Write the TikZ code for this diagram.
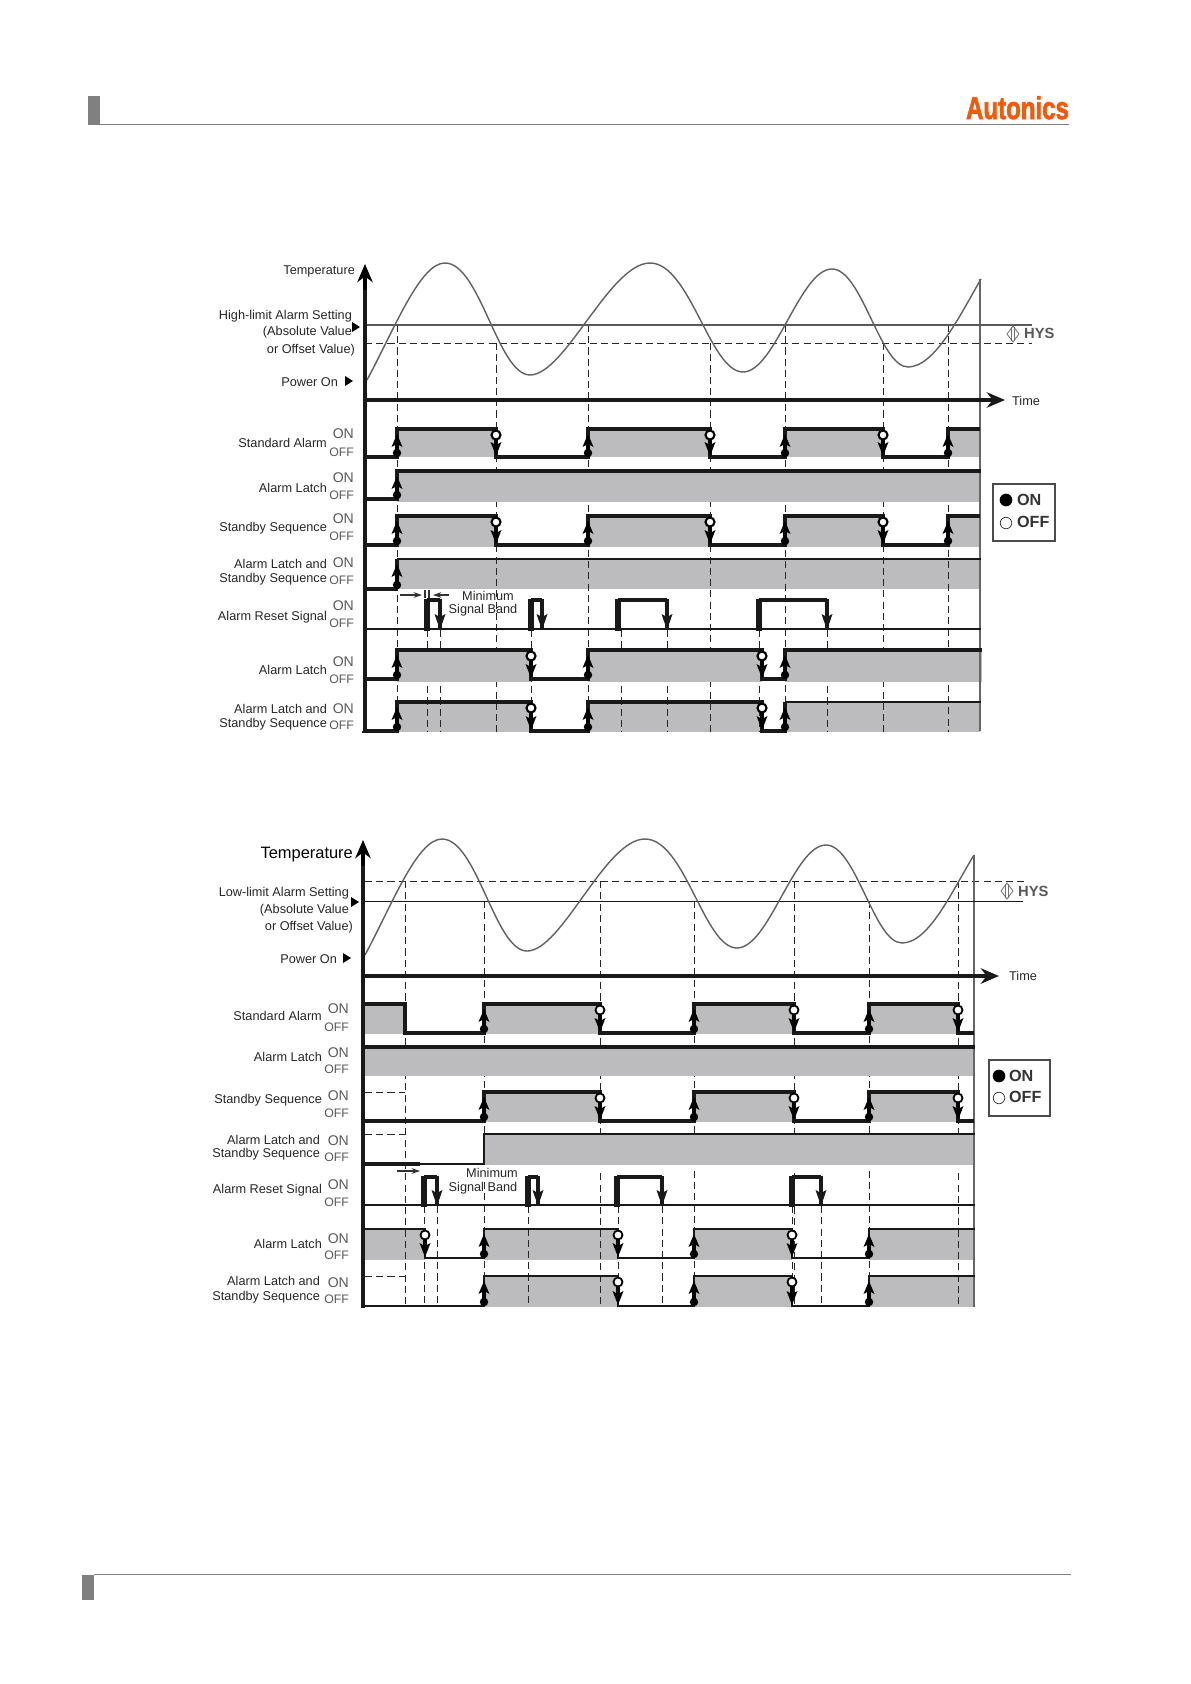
\documentclass[tikz,border=0pt]{standalone}
\usepackage{fontspec}
\setmainfont{Liberation Sans}
\newfontfamily\logofont[BoldFeatures={FakeBold=2.2}]{Liberation Sans}
\usetikzlibrary{arrows.meta}
\definecolor{bandgray}{RGB}{188,188,190}
\definecolor{logoorange}{RGB}{240,90,10}
\definecolor{rulegray}{RGB}{128,128,128}
\begin{document}
\begin{tikzpicture}[x=0.05cm,y=-0.05cm,>=latex,
  lbl/.style={anchor=east,inner sep=0pt,yshift=-1pt,text=black!85,font=\fontsize{18.1}{20}\selectfont},
  onlbl/.style={anchor=east,inner sep=0pt,yshift=-1pt,text=black!65,font=\fontsize{20}{22}\selectfont},
  offlbl/.style={anchor=east,inner sep=0pt,text=black!65,font=\fontsize{17.5}{20}\selectfont},
  hys/.style={anchor=west,inner sep=0pt,text=black!65,font=\bfseries\fontsize{21}{24}\selectfont},
  legendtxt/.style={anchor=west,inner sep=0pt,text=black!80,font=\bfseries\fontsize{23}{26}\selectfont},
  bandfill/.style={fill=bandgray},
  guide/.style={black!85,line width=1.4pt,dash pattern=on 10pt off 6pt},
  curve/.style={black!62,line width=2pt},
  limitline/.style={black!65,line width=1.5pt},
  sigwave/.style={black!90,line width=4.6pt},
  sigthin/.style={black!90,line width=3.3pt},
  pulsewave/.style={black!90,line width=4.4pt},
  axisline/.style={black!90,line width=5.8pt},
  axistip/.style={-{Stealth[length=26pt,width=22pt]}}]
  \useasboundingbox (0,0) rectangle (1191,1684);
  % page header and footer
  \fill[rulegray] (88,96) rectangle (100,125);
  \draw[rulegray,line width=2pt] (100,124.5) -- (1069,124.5);
  \node[inner sep=0pt,anchor=south east,xscale=0.76,text=logoorange,font=\logofont\bfseries\fontsize{45}{50}\selectfont] (logo) at (1069,119.5) {Autonics};
  \fill[rulegray] (82,1575) rectangle (94,1600);
  \draw[rulegray,line width=1.2pt] (94,1574.5) -- (1071,1574.5);

  % ---- high-limit chart
  \foreach \xa/\xb/\ya/\yb in {397/980/559/589,397/531/702/732,588/762/702/732,785/980/702/732}{
    \fill[bandfill] (\xa,\ya) rectangle (\xb,\yb);
  }
  \draw[guide] (365,343) -- (1032,343);
  \foreach \xpos/\ystart in {397/325,496/343,588/325,710/343,785/325,883/343,948/325}{
    \draw[guide] (\xpos,\ystart) -- (\xpos,732);
  }
  \foreach \xpos in {427,440,531,621,667,759,827}{
    \draw[guide] (\xpos,630) -- (\xpos,732);
  }
  \foreach \xa/\xb/\ya/\yb in {397/496/429/457,588/710/429/457,785/883/429/457,948/980/429/457,
      397/980/471/502,397/496/516/547,588/710/516/547,785/883/516/547,948/980/516/547,
      397/531/650/682,588/762/650/682,785/982/650/682}{
    \fill[bandfill] (\xa,\ya) rectangle (\xb,\yb);
  }
  \draw[black!60,line width=1.5pt] (980,279) -- (980,731);
  \draw[limitline] (365,325) -- (1032,325);
  \draw[curve] (367,380) .. controls (395,328) and (420,263) .. (445,263)
    .. controls (480,263) and (498,375) .. (530,375)
    .. controls (565,375) and (610,263) .. (650,263)
    .. controls (690,263) and (710,372) .. (743,372)
    .. controls (775,372) and (800,269) .. (832,269)
    .. controls (862,269) and (880,367) .. (908,367)
    .. controls (935,367) and (960,315) .. (981,279);
  % signals
  \draw[sigwave] (365,457) -| (397,429) -| (496,457) -| (588,429) -| (710,457) -| (785,429) -| (883,457) -| (948,429) -- (980,429);
  \draw[sigwave] (365,499) -| (397,471) -- (981,471);
  \draw[sigwave] (365,545) -| (397,516) -| (496,545) -| (588,516) -| (710,545) -| (785,516) -| (883,545) -| (948,516) -- (980,516);
  \draw[sigwave] (365,589) -- (397,589);
  \draw[sigwave] (397,589) -- (397,559);
  \draw[sigthin] (397,559) -- (981,559);
  \draw[sigthin] (365,629) -- (981,629);
  \foreach \xon/\xoff in {427/440,531/542,618/667,759/827}{
    \draw[black!90,line width=8pt] (\xon,631) -- (\xon,598.5);
    \draw[pulsewave] (\xon,600) -- (\xoff,600);
    \draw[pulsewave] (\xoff,598.5) -- (\xoff,629);
    \fill[black!90] (\xoff,630) -- (\xoff-5.5,614) -- (\xoff,617) -- (\xoff+5.5,614) -- cycle;
  }
  \draw[sigwave] (365,679) -| (397,650) -| (531,679) -| (588,650) -| (762,679) -| (785,650) -- (982,650);
  \draw[sigwave] (365,731) -| (397,702) -| (531,731) -| (588,702) -| (762,731) -| (785,702);
  \draw[sigthin] (785,702) -- (981,702);
  \foreach \yhigh/\ylow/\risers in {429/457/{397,588,785,948},471/499/{397},516/545/{397,588,785,948},
      559/589/{397},650/679/{397,588,785},702/731/{397,588,785}}{
    \foreach \xpos in \risers {
      \draw[black,line width=5.6pt] (\xpos,\ylow-4) -- (\xpos,\yhigh+12);
      \fill[black] (\xpos,\ylow-4) circle (6pt);
      \fill[black] (\xpos,\yhigh+5) -- (\xpos-5.5,\yhigh+18) -- (\xpos,\yhigh+15) -- (\xpos+5.5,\yhigh+18) -- cycle;
    }
  }
  \foreach \yhigh/\ylow/\fallers in {429/457/{496,710,883},516/545/{496,710,883},650/679/{531,762},702/731/{531,762}}{
    \foreach \xpos in \fallers {
      \draw[black,line width=5.6pt] (\xpos,\yhigh+6) -- (\xpos,\ylow-10);
      \fill[black] (\xpos,\ylow-1) -- (\xpos-5.5,\ylow-15) -- (\xpos,\ylow-12) -- (\xpos+5.5,\ylow-15) -- cycle;
      \draw[black,line width=3pt,fill=white] (\xpos,\yhigh+6) circle (6.4pt);
    }
  }
  % axes
  \draw[axisline] (365,732) -- (365,283);
  \draw[line width=5pt,axistip,black] (365,290) -- (365,264);
  \draw[axisline,line width=6.6pt] (365,400) -- (680,400);
  \draw[line width=4.6pt,black!90,axistip] (680,400) -- (1005,400);
  \draw[axisline,line width=4pt] (362,732) -- (397,732);
  % minimum signal band
  \draw[black!80,line width=1.5pt] (425,590) -- (425,598) (429,590) -- (429,598);
  \draw[black!80,line width=1.5pt,-{Stealth[length=12pt,width=8pt]}] (400,595) -- (422,595);
  \draw[black!80,line width=1.5pt,-{Stealth[length=12pt,width=8pt]}] (449,595) -- (433,595);
  \node[lbl,anchor=center] (topmin) at (488,595) {Minimum};
  \node[lbl,anchor=center] (topband) at (483,610) {Signal Band};
  % labels
  \node[lbl] (toptemp) at (355,270.5) {Temperature};
  \node[lbl] (toplimit) at (352,316) {High-limit Alarm Setting};
  \node[lbl] (topabs) at (352,332) {(Absolute Value};
  \node[lbl] (topoffset) at (355,349) {or Offset Value)};
  \fill[black] (360,327) -- (352,322) -- (352,332) -- cycle;
  \node[lbl] (toppower) at (338,381) {Power On};
  \fill[black] (353,381) -- (345,376) -- (345,386) -- cycle;
  \node[lbl,anchor=west] (toptime) at (1012,400) {Time};
  \foreach \rowid/\ypos/\txt in {a/442/Standard Alarm,b/487/Alarm Latch,c/528/Standby Sequence,d/563/Alarm Latch and,
      e/579/Standby Sequence,f/616/Alarm Reset Signal,g/669/Alarm Latch,h/708/Alarm Latch and,i/723/Standby Sequence}{
    \node[lbl] (toprow\rowid) at (327,\ypos) {\txt};
  }
  \foreach \yon/\yoff in {433/452,477/495,518/536,562/580,605/623,661/679,708/725}{
    \node[onlbl] (topon\yon) at (354,\yon) {ON};
    \node[offlbl] (topoff\yoff) at (354,\yoff) {OFF};
  }
  \draw[black!55,line width=1.2pt] (1013,326) -- (1019,334) -- (1013,342) -- (1007,334) -- cycle;
  \draw[black!55,line width=1.2pt] (1011.5,327) -- (1011.5,341) (1014.5,327) -- (1014.5,341);
  \node[hys] (tophys) at (1024,333) {HYS};
  \draw[black!70,line width=1.5pt] (993,484) rectangle (1055,541);
  \fill[black] (1006,500) circle (9pt);
  \draw[black!80,line width=1pt] (1006,523) circle (8.2pt);
  \node[legendtxt] (topon) at (1017,500) {ON};
  \node[legendtxt] (topoff) at (1017,522) {OFF};

  % ---- low-limit chart
  \foreach \xa/\xb/\ya/\yb in {365/425/1229/1260,484/618/1229/1260,694/792/1229/1260,869/974/1229/1260,
      484/618/1276/1307,694/792/1276/1307,869/974/1276/1307}{
    \fill[bandfill] (\xa,\ya) rectangle (\xb,\yb);
  }
  \draw[guide] (365,881) -- (1025,881);
  \foreach \xpos/\ystart in {405/881,484/901,600/881,694/901,794/881,869/901,958/881}{
    \draw[guide] (\xpos,\ystart) -- (\xpos,1307);
  }
  \foreach \xpos in {424,437,528,618,662,792,821}{
    \draw[guide] (\xpos,1206) -- (\xpos,1307);
  }
  \foreach \ypos in {1092,1134,1276}{
    \draw[guide] (365,\ypos) -- (405,\ypos);
  }
  \fill[white] (420,1165) rectangle (973,1171);
  \fill[white] (470,1165) rectangle (515,1179);
  \foreach \xa/\xb/\ya/\yb in {365/405/1004/1034,484/600/1004/1034,694/794/1004/1034,869/958/1004/1034,
      365/974/1047/1076,484/600/1092/1122,694/794/1092/1122,869/958/1092/1122,484/974/1134/1165}{
    \fill[bandfill] (\xa,\ya) rectangle (\xb,\yb);
  }
  \draw[black!60,line width=1.5pt] (974,855) -- (974,1307);
  \draw[black!90,line width=1.3pt] (365,901) -- (1023,901);
  \draw[curve] (365,955) .. controls (392,905) and (417,839) .. (442,839)
    .. controls (477,839) and (495,951) .. (527,951)
    .. controls (562,951) and (605,839) .. (645,839)
    .. controls (685,839) and (704,948) .. (737,948)
    .. controls (769,948) and (794,845) .. (826,845)
    .. controls (856,845) and (874,943) .. (902,943)
    .. controls (929,943) and (952,891) .. (974,855);
  % signals
  \draw[sigwave] (365,1004) -| (405,1033) -| (484,1004) -| (600,1033) -| (694,1004) -| (794,1033) -| (869,1004) -| (958,1033) -- (974,1033);
  \draw[sigwave] (365,1047) -- (975,1047);
  \draw[sigwave] (365,1121) -| (484,1092) -| (600,1121) -| (694,1092) -| (794,1121) -| (869,1092) -| (958,1121) -- (974,1121);
  \draw[sigthin] (365,1164) -| (484,1134) -- (975,1134);
  \draw[sigwave] (365,1164) -- (420,1164);
  \draw[sigthin] (365,1205) -- (975,1205);
  \foreach \xon/\xoff in {424/437,528/538,617/662,792/821}{
    \draw[black!90,line width=8pt] (\xon,1207) -- (\xon,1175.5);
    \draw[pulsewave] (\xon,1177) -- (\xoff,1177);
    \draw[pulsewave] (\xoff,1175.5) -- (\xoff,1205);
    \fill[black!90] (\xoff,1206) -- (\xoff-5.5,1190) -- (\xoff,1193) -- (\xoff+5.5,1190) -- cycle;
  }
  \draw[sigthin] (365,1229) -| (425,1258) -| (484,1229) -| (618,1258) -| (694,1229) -| (792,1258) -| (869,1229) -- (975,1229);
  \draw[sigthin] (365,1306) -| (484,1276) -| (618,1306) -| (694,1276) -| (792,1306) -| (869,1276) -- (975,1276);
  \foreach \yhigh/\ylow/\risers in {1004/1033/{484,694,869},1092/1121/{484,694,869},1229/1258/{484,694,869},1276/1306/{484,694,869}}{
    \foreach \xpos in \risers {
      \draw[black,line width=5.6pt] (\xpos,\ylow-4) -- (\xpos,\yhigh+12);
      \fill[black] (\xpos,\ylow-4) circle (6pt);
      \fill[black] (\xpos,\yhigh+5) -- (\xpos-5.5,\yhigh+18) -- (\xpos,\yhigh+15) -- (\xpos+5.5,\yhigh+18) -- cycle;
    }
  }
  \foreach \yhigh/\ylow/\fallers in {1004/1033/{600,794,958},1092/1121/{600,794,958},1229/1258/{425,618,792},1276/1306/{618,792}}{
    \foreach \xpos in \fallers {
      \draw[black,line width=5pt] (\xpos,\yhigh+6) -- (\xpos,\ylow-10);
      \fill[black] (\xpos,\ylow-1) -- (\xpos-5.5,\ylow-15) -- (\xpos,\ylow-12) -- (\xpos+5.5,\ylow-15) -- cycle;
      \draw[black,line width=2.6pt,fill=white] (\xpos,\yhigh+6) circle (6.4pt);
    }
  }
  % axes
  \draw[axisline] (363,1308) -- (363,859);
  \draw[line width=5pt,axistip,black] (363,866) -- (363,840);
  \draw[line width=6pt,black!90,axistip] (363,976) -- (999,976);
  % minimum signal band
  \draw[black!80,line width=1.5pt,-{Stealth[length=12pt,width=8pt]}] (397,1171) -- (420,1171);
  \node[lbl,anchor=center] (lowmin) at (492,1172) {Minimum};
  \node[lbl,anchor=center] (lowband) at (483,1187) {Signal Band};
  % labels
  \node[lbl,font=\fontsize{23.4}{26}\selectfont,text=black] (lowtemp) at (353,853.5) {Temperature};
  \node[lbl] (lowlimit) at (349,892) {Low-limit Alarm Setting};
  \node[lbl] (lowabs) at (349,909) {(Absolute Value};
  \node[lbl] (lowoffset) at (353,926) {or Offset Value)};
  \fill[black] (359,902) -- (351,897) -- (351,907) -- cycle;
  \node[lbl] (lowpower) at (337,958) {Power On};
  \fill[black] (351,958) -- (343,953) -- (343,963) -- cycle;
  \node[lbl,anchor=west] (lowtime) at (1009,975) {Time};
  \foreach \rowid/\ytxt/\xtxt/\txt in {a/1015/322/Standard Alarm,b/1056/322/Alarm Latch,c/1099/322/Standby Sequence,d/1139/320/Alarm Latch and,
      e/1153/320/Standby Sequence,f/1189/322/Alarm Reset Signal,g/1243/322/Alarm Latch,h/1280/320/Alarm Latch and,i/1296/320/Standby Sequence}{
    \node[lbl] (lowrow\rowid) at (\xtxt,\ytxt) {\txt};
  }
  \foreach \yon/\yoff in {1008/1027,1052/1069,1095/1113,1140/1157,1184/1202,1238/1255,1282/1299}{
    \node[onlbl] (lowon\yon) at (349,\yon) {ON};
    \node[offlbl] (lowoff\yoff) at (349,\yoff) {OFF};
  }
  \draw[black!55,line width=1.2pt] (1007,883) -- (1013,891) -- (1007,899) -- (1001,891) -- cycle;
  \draw[black!55,line width=1.2pt] (1005.5,884) -- (1005.5,898) (1008.5,884) -- (1008.5,898);
  \node[hys] (lowhys) at (1018,891) {HYS};
  \draw[black!70,line width=1.5pt] (989,1060) rectangle (1050,1116);
  \fill[black] (999,1076) circle (9pt);
  \draw[black!80,line width=1pt] (999,1098) circle (8.2pt);
  \node[legendtxt] (lowon) at (1009,1076) {ON};
  \node[legendtxt] (lowoff) at (1009,1097) {OFF};
\end{tikzpicture}
\end{document}
